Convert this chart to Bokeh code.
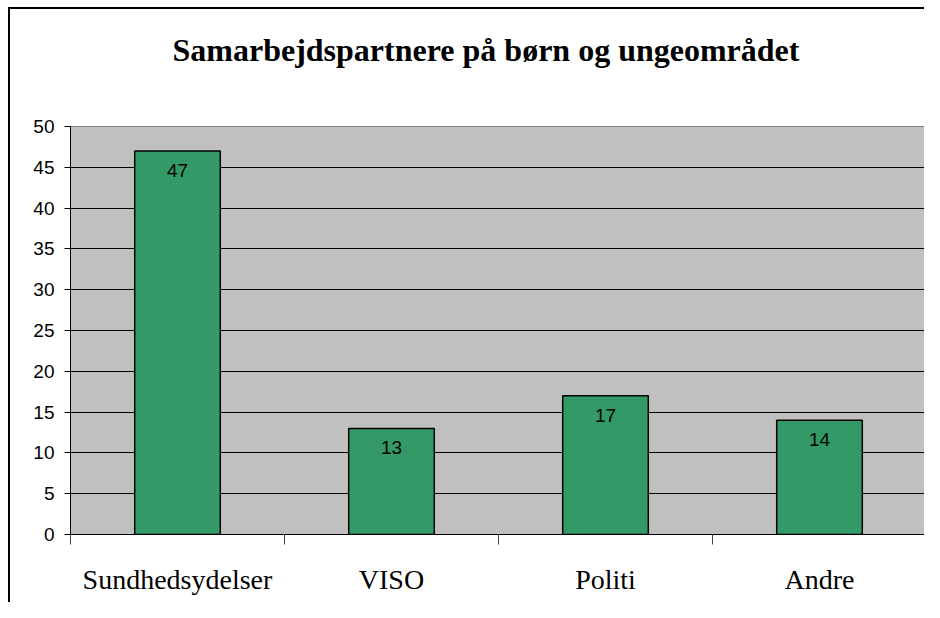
from bokeh.plotting import figure
from bokeh.models import FixedTicker, Range1d, Title, ColumnDataSource
from bokeh.embed import file_html
from bokeh.resources import INLINE
from bokeh.core.properties import value

# ---- data ----
categories = ["Sundhedsydelser", "VISO", "Politi", "Andre"]
values = [47, 13, 17, 14]
y_ticks = [0, 5, 10, 15, 20, 25, 30, 35, 40, 45, 50]
title_text = "Samarbejdspartnere på børn og ungeområdet"

centers = [i + 0.5 for i in range(len(categories))]
bounds = list(range(len(categories) + 1))

src = ColumnDataSource(dict(x=centers, top=values, label=[str(v) for v in values]))

p = figure(width=916, height=595, output_backend="svg", toolbar_location=None,
           x_range=Range1d(0, len(categories)), y_range=Range1d(0, 50),
           min_border_left=60, min_border_right=0, min_border_top=117, min_border_bottom=70)
p.title = None
p.styles = {"border-top": "2px solid black", "border-left": "2px solid black",
            "box-sizing": "border-box", "margin-top": "7px", "margin-left": "8px"}
p.background_fill_color = "#C0C0C0"
p.border_fill_color = "white"
p.outline_line_color = "#808080"
p.outline_line_width = 1

# spacer between frame and title, then the title itself
spacer = Title(text=" ", text_font_size="1px", standoff=56)
p.add_layout(spacer, "above")
main_title = Title(text=title_text, align="left", offset=102, standoff=0,
                   text_font="Liberation Serif", text_font_size="32px", text_font_style="bold",
                   text_color="black")
p.add_layout(main_title, "above")

p.vbar(x="x", top="top", width=0.4, source=src, fill_color="#339966",
       line_color="black", line_width=1.5)
p.text(x="x", y="top", text="label", source=src, text_align="center", text_baseline="top",
       y_offset=13, text_font=value("Liberation Sans"), text_font_size="19px", text_color="black")

# grid
p.xgrid.visible = False
p.ygrid.ticker = FixedTicker(ticks=y_ticks[1:-1])
p.ygrid.grid_line_color = "black"
p.ygrid.grid_line_width = 1

# y axis
p.yaxis.ticker = FixedTicker(ticks=y_ticks)
p.yaxis.axis_line_color = "black"
p.yaxis.major_tick_line_color = "black"
p.yaxis.major_tick_out = 6
p.yaxis.major_tick_in = 0
p.yaxis.minor_tick_line_color = None
p.yaxis.major_label_standoff = 10
p.yaxis.major_label_text_font = "Liberation Sans"
p.yaxis.major_label_text_font_size = "19px"
p.yaxis.major_label_text_color = "black"

# x axis
p.xaxis.ticker = FixedTicker(ticks=centers, minor_ticks=bounds)
p.xaxis.major_label_overrides = {c: cat for c, cat in zip(centers, categories)}
p.xaxis.axis_line_color = "black"
p.xaxis.major_tick_line_color = None
p.xaxis.major_tick_out = 0
p.xaxis.major_tick_in = 0
p.xaxis.minor_tick_line_color = "#404040"
p.xaxis.minor_tick_out = 10
p.xaxis.minor_tick_in = 0
p.xaxis.major_label_standoff = 19
p.xaxis.major_label_text_font = "Liberation Serif"
p.xaxis.major_label_text_font_size = "28px"
p.xaxis.major_label_text_color = "black"

open("out.html", "w").write(file_html(p, INLINE))
